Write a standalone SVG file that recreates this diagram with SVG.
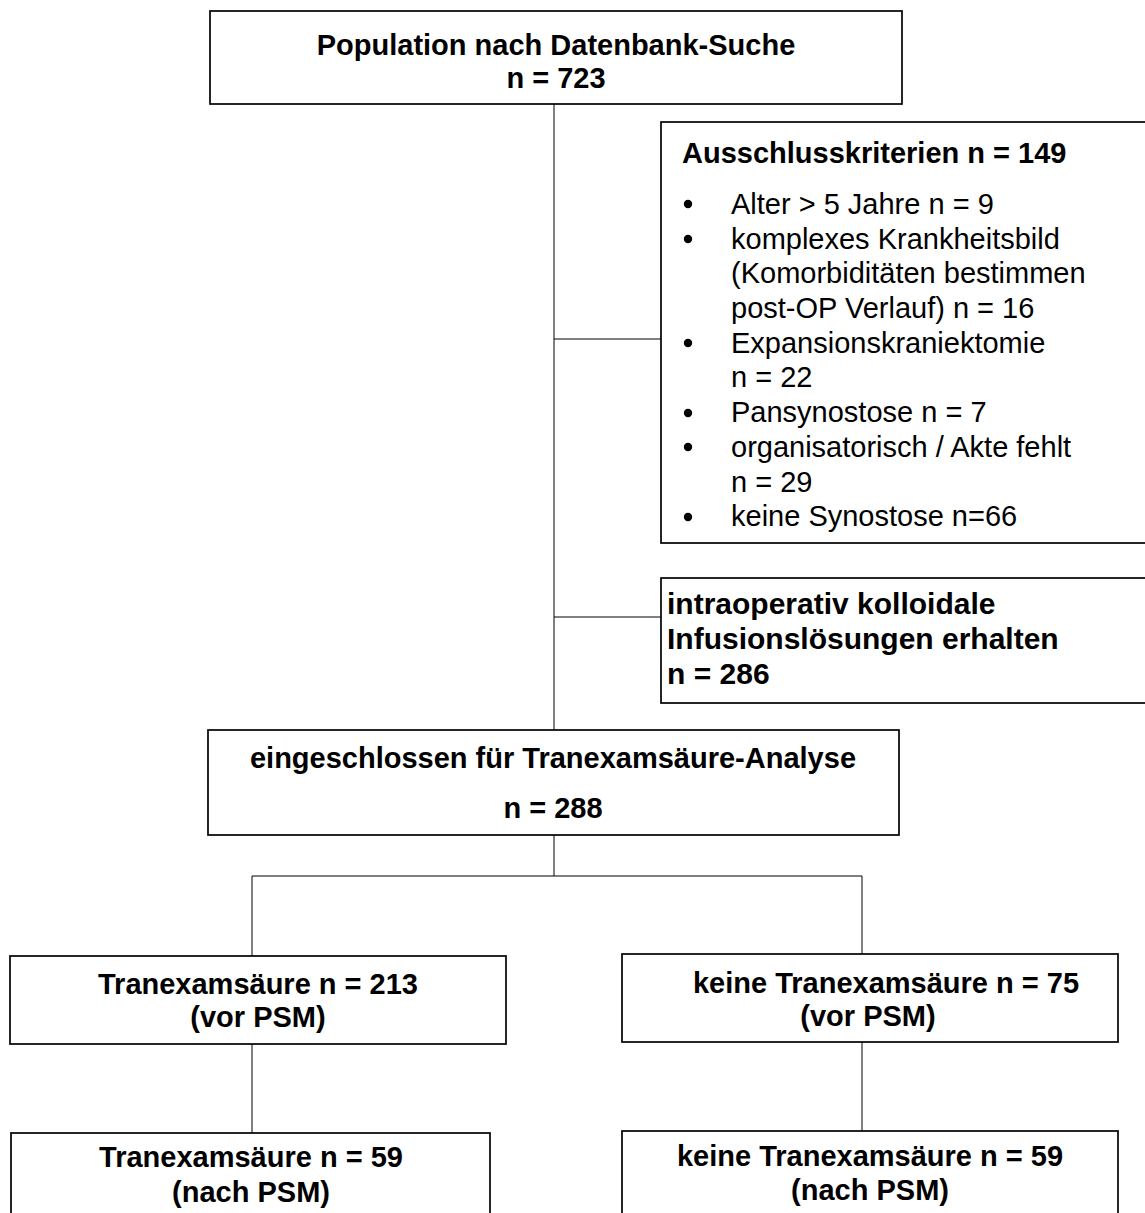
<svg xmlns="http://www.w3.org/2000/svg" width="1145" height="1213" viewBox="0 0 1145 1213">
<style>
.box{fill:#fff;stroke:#000;stroke-width:1.7}
.con{fill:none;stroke:#000;stroke-width:1}
.b{font-family:"Liberation Sans",Arial,sans-serif;font-weight:bold;font-size:29px;fill:#000}
.r{font-family:"Liberation Sans",Arial,sans-serif;font-size:29px;fill:#000}
.c{text-anchor:middle}
.big{font-size:30px}
</style>
<rect width="1145" height="1213" fill="#fff"/>
<g id="connectors">
<path class="con" d="M554,104 V730 M554,339 H661 M554,617 H661 M554,835 V876 M252,876 H862 M252,876 V956 M862,876 V954 M252,1044 V1133 M862,1042 V1131"/>
</g>
<g id="n-population">
<rect class="box" x="210" y="11" width="692" height="93"/>
<text class="b c" x="556" y="55">Population nach Datenbank-Suche</text>
<text class="b c" x="556" y="88">n = 723</text>
</g>
<g id="n-ausschluss">
<rect class="box" x="661" y="122" width="490" height="421"/>
<text class="b" x="682" y="163">Ausschlusskriterien n = 149</text>
<g fill="#000">
<circle cx="688" cy="204" r="4.2"/>
<circle cx="688" cy="239" r="4.2"/>
<circle cx="688" cy="343" r="4.2"/>
<circle cx="688" cy="413" r="4.2"/>
<circle cx="688" cy="447" r="4.2"/>
<circle cx="688" cy="517" r="4.2"/>
</g>
<text class="r" x="731" y="214">Alter &gt; 5 Jahre n = 9</text>
<text class="r" x="731" y="249">komplexes Krankheitsbild</text>
<text class="r" x="731" y="283">(Komorbiditäten bestimmen</text>
<text class="r" x="731" y="318">post-OP Verlauf) n = 16</text>
<text class="r" x="731" y="353">Expansionskraniektomie</text>
<text class="r" x="731" y="387">n = 22</text>
<text class="r" x="731" y="422">Pansynostose n = 7</text>
<text class="r" x="731" y="457">organisatorisch / Akte fehlt</text>
<text class="r" x="731" y="492">n = 29</text>
<text class="r" x="731" y="526">keine Synostose n=66</text>
</g>
<g id="n-kolloid">
<rect class="box" x="661" y="578" width="490" height="125"/>
<text class="b big" x="667" y="614">intraoperativ kolloidale</text>
<text class="b big" x="667" y="649">Infusionslösungen erhalten</text>
<text class="b big" x="667" y="684">n = 286</text>
</g>
<g id="n-eingeschlossen">
<rect class="box" x="208" y="730" width="691" height="105"/>
<text class="b c" x="553" y="768">eingeschlossen für Tranexamsäure-Analyse</text>
<text class="b c" x="553" y="818">n = 288</text>
</g>
<g id="n-txa-vor">
<rect class="box" x="10" y="956" width="496" height="88"/>
<text class="b c" x="258" y="994">Tranexamsäure n = 213</text>
<text class="b c" x="258" y="1027">(vor PSM)</text>
</g>
<g id="n-keine-vor">
<rect class="box" x="622" y="954" width="496" height="88"/>
<text class="b c" x="886" y="993">keine Tranexamsäure n = 75</text>
<text class="b c" x="868" y="1026">(vor PSM)</text>
</g>
<g id="n-txa-nach">
<rect class="box" x="11" y="1133" width="479" height="100"/>
<text class="b c" x="251" y="1167">Tranexamsäure n = 59</text>
<text class="b c" x="251" y="1202">(nach PSM)</text>
</g>
<g id="n-keine-nach">
<rect class="box" x="622" y="1131" width="496" height="100"/>
<text class="b c" x="870" y="1166">keine Tranexamsäure n = 59</text>
<text class="b c" x="870" y="1200">(nach PSM)</text>
</g>
</svg>
